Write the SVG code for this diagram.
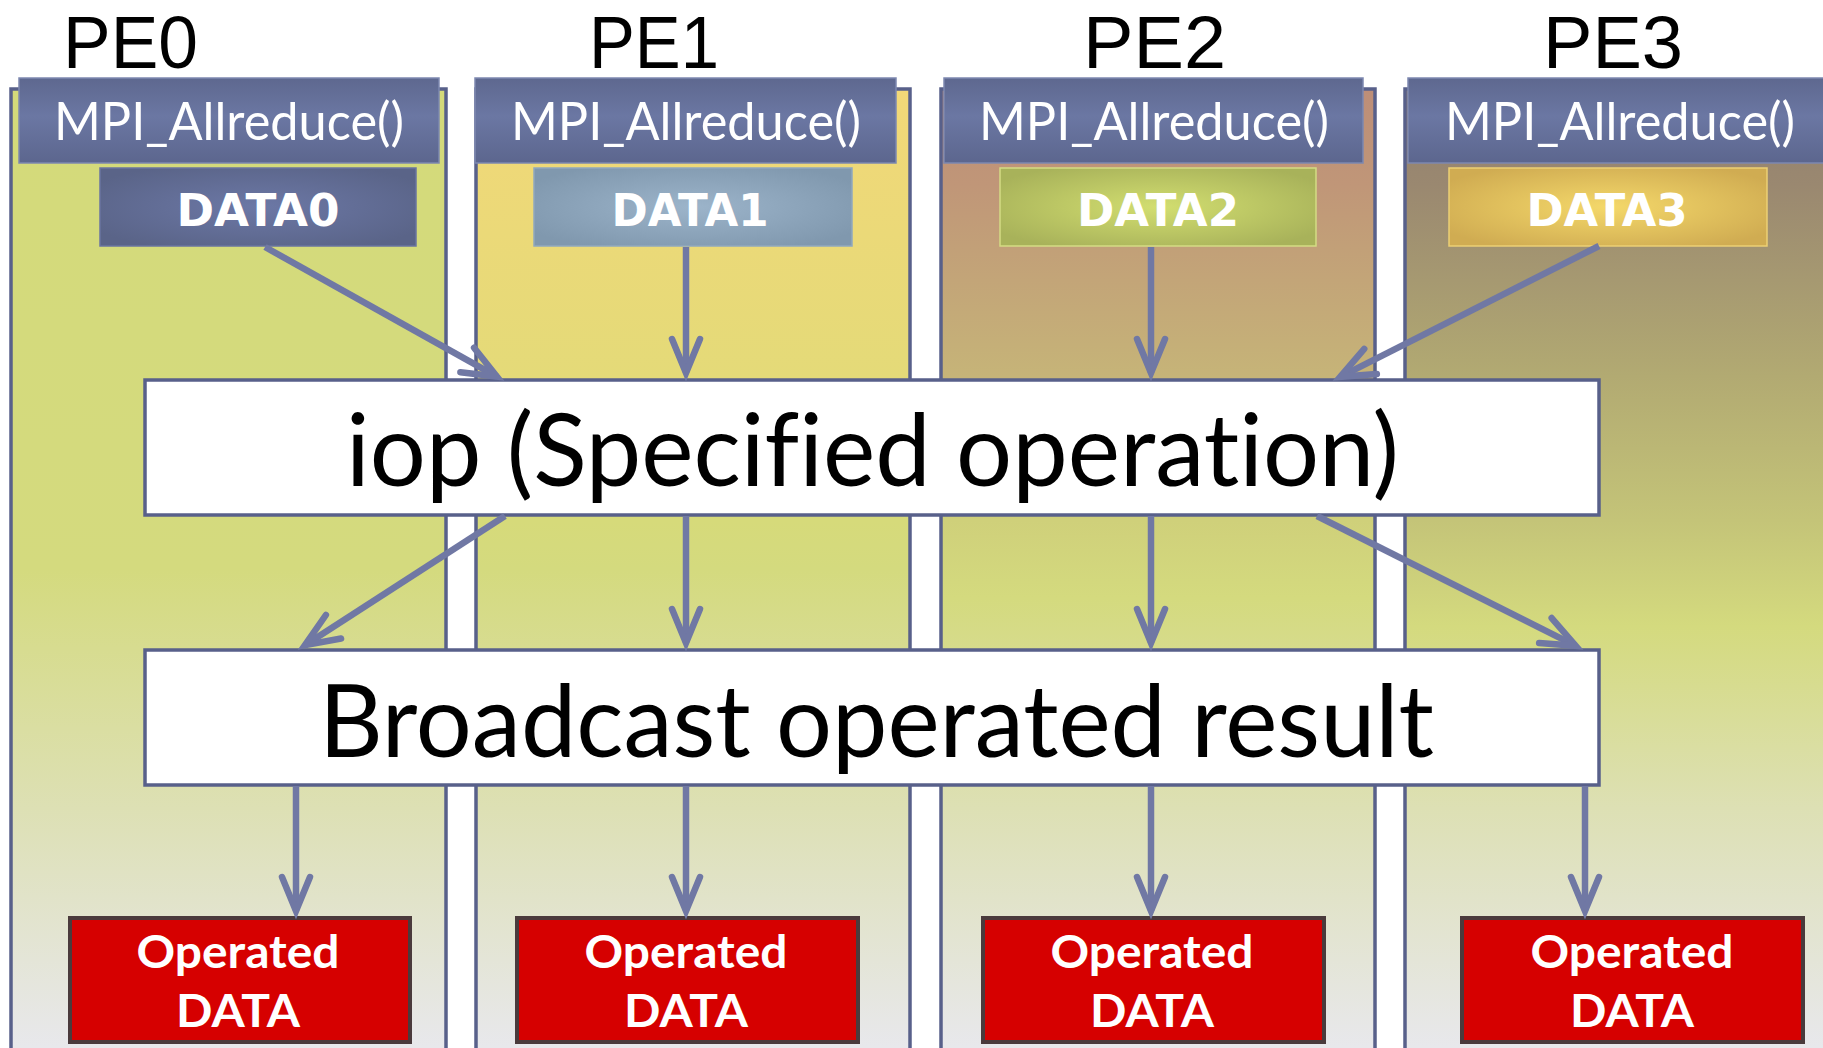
<svg xmlns="http://www.w3.org/2000/svg" width="1823" height="1048" viewBox="0 0 1823 1048">
<defs>
<style>
text{font-variant-ligatures:none}
.col{stroke:#58608a;stroke-width:3.5}
.hdr{fill:url(#gHdr);stroke:#7d88b0;stroke-width:1.5}
.hdrtxt{font-family:Lato,"Open Sans",sans-serif;font-size:52px;fill:#ffffff;text-anchor:middle}
.pe{font-family:"Liberation Sans",Arial,sans-serif;font-size:74px;fill:#000}
.dtxt{font-family:"DejaVu Sans",Verdana,sans-serif;font-weight:bold;font-size:44px;fill:#ffffff;text-anchor:middle}
.big{fill:#ffffff;stroke:#58608a;stroke-width:3.5}
.bigtxt{font-family:Lato,"Open Sans",sans-serif;font-size:100px;fill:#000}
.op{fill:#d60000;stroke:#4a3a3c;stroke-width:4}
.optxt{font-family:Lato,"Open Sans",sans-serif;font-weight:bold;font-size:46px;fill:#ffffff;text-anchor:middle}
.arr{fill:none;stroke:#7078a4;stroke-width:6.5;marker-end:url(#ah)}
</style>
<marker id="ah" markerUnits="userSpaceOnUse" viewBox="-45 -25 55 50" refX="0" refY="0" markerWidth="55" markerHeight="50" orient="auto" overflow="visible">
<path d="M-34,-14 L0,0 L-34,14" fill="none" stroke="#7078a4" stroke-width="6.5" stroke-linecap="round" stroke-linejoin="miter" stroke-miterlimit="10"/>
</marker>
<linearGradient id="gHdr" x1="0" y1="0" x2="0" y2="1">
<stop offset="0" stop-color="#5e688f"/>
<stop offset="0.45" stop-color="#6b77a3"/>
<stop offset="1" stop-color="#5c668e"/>
</linearGradient>
<linearGradient id="g0" gradientUnits="userSpaceOnUse" x1="0" y1="89" x2="0" y2="1048">
<stop offset="0" stop-color="#d4da7a"/>
<stop offset="0.5" stop-color="#d4da7e"/>
<stop offset="0.75" stop-color="#dde0b4"/>
<stop offset="1" stop-color="#e8e8ec"/>
</linearGradient>
<linearGradient id="g1" gradientUnits="userSpaceOnUse" x1="0" y1="89" x2="0" y2="1048">
<stop offset="0" stop-color="#f2d878"/>
<stop offset="0.3" stop-color="#e4da78"/>
<stop offset="0.45" stop-color="#d6da7a"/>
<stop offset="0.5" stop-color="#d4da7e"/>
<stop offset="0.75" stop-color="#dde0b4"/>
<stop offset="1" stop-color="#e8e8ec"/>
</linearGradient>
<linearGradient id="g2" gradientUnits="userSpaceOnUse" x1="0" y1="89" x2="0" y2="1048">
<stop offset="0" stop-color="#bd8e78"/>
<stop offset="0.1" stop-color="#c09678"/>
<stop offset="0.3" stop-color="#c6b478"/>
<stop offset="0.45" stop-color="#cfd07a"/>
<stop offset="0.53" stop-color="#d4da7e"/>
<stop offset="0.75" stop-color="#dde0b4"/>
<stop offset="1" stop-color="#e8e8ec"/>
</linearGradient>
<linearGradient id="g3" gradientUnits="userSpaceOnUse" x1="0" y1="89" x2="0" y2="1048">
<stop offset="0" stop-color="#928070"/>
<stop offset="0.1" stop-color="#9a8870"/>
<stop offset="0.3" stop-color="#b2aa72"/>
<stop offset="0.45" stop-color="#c4c478"/>
<stop offset="0.56" stop-color="#d4da7e"/>
<stop offset="0.75" stop-color="#dde0b4"/>
<stop offset="1" stop-color="#e8e8ec"/>
</linearGradient>
<radialGradient id="d0" cx="0.5" cy="0.5" r="0.6">
<stop offset="0" stop-color="#6c78a6"/>
<stop offset="1" stop-color="#5a6488"/>
</radialGradient>
<radialGradient id="d1" cx="0.5" cy="0.5" r="0.6">
<stop offset="0" stop-color="#9cb4ca"/>
<stop offset="1" stop-color="#8098ae"/>
</radialGradient>
<radialGradient id="d2" cx="0.5" cy="0.5" r="0.6">
<stop offset="0" stop-color="#d2de70"/>
<stop offset="1" stop-color="#a8b25a"/>
</radialGradient>
<radialGradient id="d3" cx="0.5" cy="0.5" r="0.6">
<stop offset="0" stop-color="#f4d86a"/>
<stop offset="1" stop-color="#d0ac52"/>
</radialGradient>
</defs>
<rect x="0" y="0" width="1823" height="1048" fill="#ffffff"/>

<g id="pe0">
<rect class="col" x="11" y="89" width="435" height="975" fill="url(#g0)"/>
<text class="pe" x="63" y="68" textLength="135" lengthAdjust="spacingAndGlyphs">PE0</text>
<rect class="hdr" x="19" y="78" width="420" height="85"/>
<text class="hdrtxt" x="229" y="140" textLength="350" lengthAdjust="spacingAndGlyphs">MPI_Allreduce()</text>
<rect x="100" y="168" width="316" height="78" fill="url(#d0)" stroke="#6a74a0" stroke-width="1.5"/>
<text class="dtxt" x="258" y="226" textLength="163" lengthAdjust="spacingAndGlyphs">DATA0</text>
</g>

<g id="pe1">
<rect class="col" x="476" y="89" width="434" height="975" fill="url(#g1)"/>
<text class="pe" x="589" y="68" textLength="130" lengthAdjust="spacingAndGlyphs">PE1</text>
<rect class="hdr" x="475" y="78" width="421" height="85"/>
<text class="hdrtxt" x="686" y="140" textLength="350" lengthAdjust="spacingAndGlyphs">MPI_Allreduce()</text>
<rect x="534" y="168" width="318" height="78" fill="url(#d1)" stroke="#90a8be" stroke-width="1.5"/>
<text class="dtxt" x="690" y="226" textLength="157" lengthAdjust="spacingAndGlyphs">DATA1</text>
</g>

<g id="pe2">
<rect class="col" x="941" y="89" width="434" height="975" fill="url(#g2)"/>
<text class="pe" x="1083" y="68" textLength="143" lengthAdjust="spacingAndGlyphs">PE2</text>
<rect class="hdr" x="944" y="78" width="419" height="85"/>
<text class="hdrtxt" x="1154" y="140" textLength="350" lengthAdjust="spacingAndGlyphs">MPI_Allreduce()</text>
<rect x="1000" y="168" width="316" height="78" fill="url(#d2)" stroke="#d4dc84" stroke-width="1.5"/>
<text class="dtxt" x="1158" y="226" textLength="162" lengthAdjust="spacingAndGlyphs">DATA2</text>
</g>

<g id="pe3">
<rect class="col" x="1405" y="89" width="440" height="975" fill="url(#g3)"/>
<text class="pe" x="1543" y="68" textLength="140" lengthAdjust="spacingAndGlyphs">PE3</text>
<rect class="hdr" x="1408" y="78" width="425" height="85"/>
<text class="hdrtxt" x="1620" y="140" textLength="350" lengthAdjust="spacingAndGlyphs">MPI_Allreduce()</text>
<rect x="1449" y="168" width="318" height="78" fill="url(#d3)" stroke="#ecd074" stroke-width="1.5"/>
<text class="dtxt" x="1607" y="226" textLength="161" lengthAdjust="spacingAndGlyphs">DATA3</text>
</g>

<g id="iop">
<rect class="big" x="145" y="380" width="1454" height="135"/>
<text class="bigtxt" x="346" y="486" textLength="1053" lengthAdjust="spacingAndGlyphs">iop (Specified operation)</text>
</g>

<g id="broadcast">
<rect class="big" x="145" y="650" width="1454" height="135"/>
<text class="bigtxt" x="319" y="757" textLength="1115" lengthAdjust="spacingAndGlyphs">Broadcast operated result</text>
</g>

<g id="op0">
<rect class="op" x="70" y="918" width="340" height="124"/>
<text class="optxt" x="238" y="968" textLength="203" lengthAdjust="spacingAndGlyphs">Operated</text>
<text class="optxt" x="238" y="1027" textLength="124" lengthAdjust="spacingAndGlyphs">DATA</text>
</g>
<g id="op1">
<rect class="op" x="517" y="918" width="341" height="124"/>
<text class="optxt" x="686" y="968" textLength="203" lengthAdjust="spacingAndGlyphs">Operated</text>
<text class="optxt" x="686" y="1027" textLength="124" lengthAdjust="spacingAndGlyphs">DATA</text>
</g>
<g id="op2">
<rect class="op" x="983" y="918" width="341" height="124"/>
<text class="optxt" x="1152" y="968" textLength="203" lengthAdjust="spacingAndGlyphs">Operated</text>
<text class="optxt" x="1152" y="1027" textLength="124" lengthAdjust="spacingAndGlyphs">DATA</text>
</g>
<g id="op3">
<rect class="op" x="1462" y="918" width="341" height="124"/>
<text class="optxt" x="1632" y="968" textLength="203" lengthAdjust="spacingAndGlyphs">Operated</text>
<text class="optxt" x="1632" y="1027" textLength="124" lengthAdjust="spacingAndGlyphs">DATA</text>
</g>

<g id="connectors">
<path class="arr" d="M265,247 L496.9,376.6"/>
<path class="arr" d="M686,247 L686,373"/>
<path class="arr" d="M1151,247 L1151,373"/>
<path class="arr" d="M1599,246 L1340.2,376.8"/>
<path class="arr" d="M505,516 L304.9,645.2"/>
<path class="arr" d="M686,516 L686,643"/>
<path class="arr" d="M1151,516 L1151,643"/>
<path class="arr" d="M1317,516 L1575.8,645.8"/>
<path class="arr" d="M296,786 L296,911"/>
<path class="arr" d="M686,786 L686,911"/>
<path class="arr" d="M1151,786 L1151,911"/>
<path class="arr" d="M1585,786 L1585,911"/>
</g>
</svg>
